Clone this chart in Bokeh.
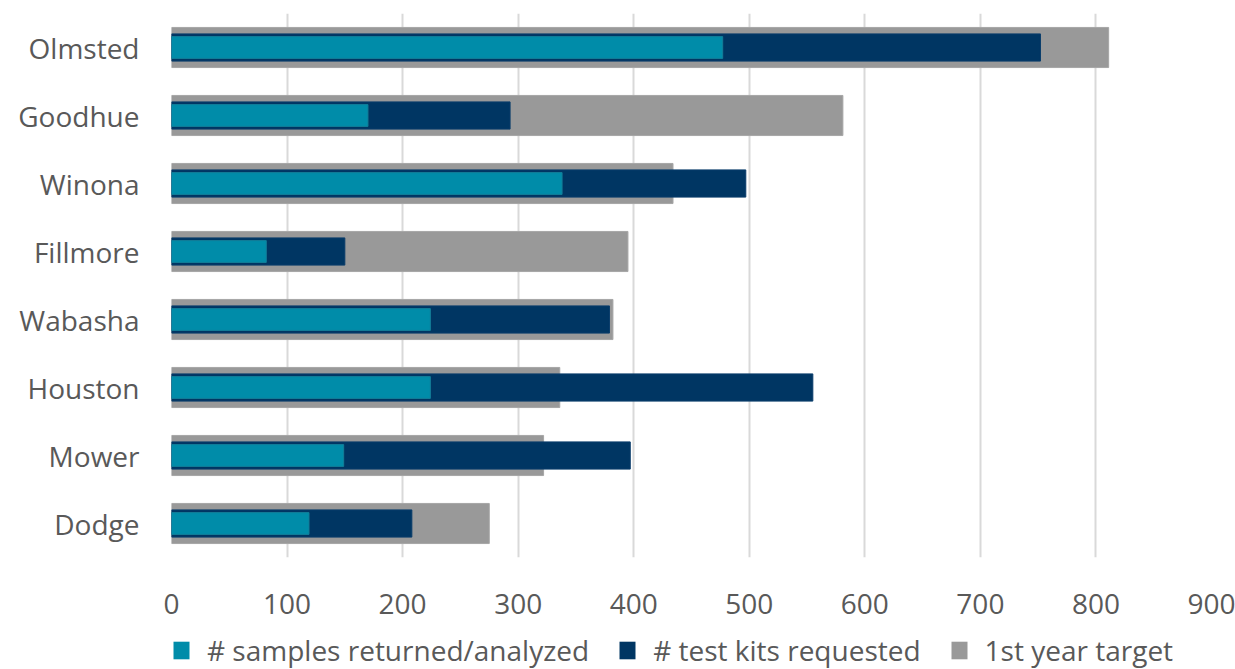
from bokeh.plotting import figure
from bokeh.models import Range1d, FactorRange, Legend, LegendItem
from bokeh.layouts import column
from bokeh.embed import file_html
from bokeh.resources import INLINE

counties = ["Olmsted", "Goodhue", "Winona", "Fillmore", "Wabasha", "Houston", "Mower", "Dodge"]
samples_returned = [477, 170, 338, 82, 224, 224, 149, 119]
kits_requested = [752, 293, 497, 150, 379, 555, 397, 208]
year1_target = [811, 581, 434, 395, 382, 336, 322, 275]
series_names = ["# samples returned/analyzed", "# test kits requested", "1st year target"]
x_ticks = [0, 100, 200, 300, 400, 500, 600, 700, 800, 900]

TEAL = "#008CA9"
NAVY = "#003663"
GRAY = "#999999"
FONT = "Open Sans"
TXT = "#595959"
FS = "28px"

# ---- main chart ----
p = figure(width=1235, height=626, output_backend="svg", toolbar_location=None,
           y_range=FactorRange(*list(reversed(counties)), range_padding=0),
           x_range=Range1d(0, 900),
           min_border_left=171, min_border_right=24, min_border_top=13, min_border_bottom=69)
p.outline_line_color = None

p.hbar(y=counties, right=year1_target, height=0.59, color=GRAY, line_color="#a6a6a6", line_width=1)
p.hbar(y=counties, right=kits_requested, height=0.40, color=NAVY, line_color="#0a3d6b", line_width=1)
p.hbar(y=counties, right=samples_returned, height=0.32, color=TEAL, line_color="#137f99", line_width=1)

p.xaxis.ticker = x_ticks
p.xaxis.axis_line_color = None
p.xaxis.major_tick_line_color = None
p.xaxis.minor_tick_line_color = None
p.xaxis.major_label_standoff = 30
p.xaxis.major_label_text_font = FONT
p.xaxis.major_label_text_font_size = FS
p.xaxis.major_label_text_color = TXT

p.yaxis.axis_line_color = None
p.yaxis.major_tick_line_color = None
p.yaxis.minor_tick_line_color = None
p.yaxis.major_label_standoff = 26
p.yaxis.major_label_text_font = FONT
p.yaxis.major_label_text_font_size = FS
p.yaxis.major_label_text_color = TXT

p.ygrid.grid_line_color = None
p.xgrid.grid_line_color = "#d9d9d9"
p.xgrid.grid_line_width = 2

# ---- legend strip (zero-height proxies of the same series, so only the legend shows) ----
lg = figure(width=1235, height=43, output_backend="svg", toolbar_location=None,
            y_range=FactorRange(*list(reversed(counties))),
            x_range=Range1d(5000, 5100),
            x_axis_location=None, y_axis_location=None,
            min_border_left=0, min_border_right=0, min_border_top=0, min_border_bottom=0)
lg.outline_line_color = None
lg.grid.grid_line_color = None
g2 = lg.hbar(y=counties, right=year1_target, height=0, fill_color=GRAY, line_color=None)
n2 = lg.hbar(y=counties, right=kits_requested, height=0, fill_color=NAVY, line_color=None)
t2 = lg.hbar(y=counties, right=samples_returned, height=0, fill_color=TEAL, line_color=None)

legend = Legend(items=[LegendItem(label=series_names[0], renderers=[t2]),
                       LegendItem(label=series_names[1], renderers=[n2]),
                       LegendItem(label=series_names[2], renderers=[g2])],
                orientation="horizontal", location=(0, 0),
                label_text_font=FONT, label_text_font_size=FS, label_text_color=TXT,
                glyph_width=20, glyph_height=22, label_standoff=16, spacing=28,
                border_line_color=None, background_fill_alpha=0, padding=0, margin=0)
lg.add_layout(legend, "center")

layout = column(p, lg, spacing=0)
open("out.html", "w").write(file_html(layout, INLINE))
